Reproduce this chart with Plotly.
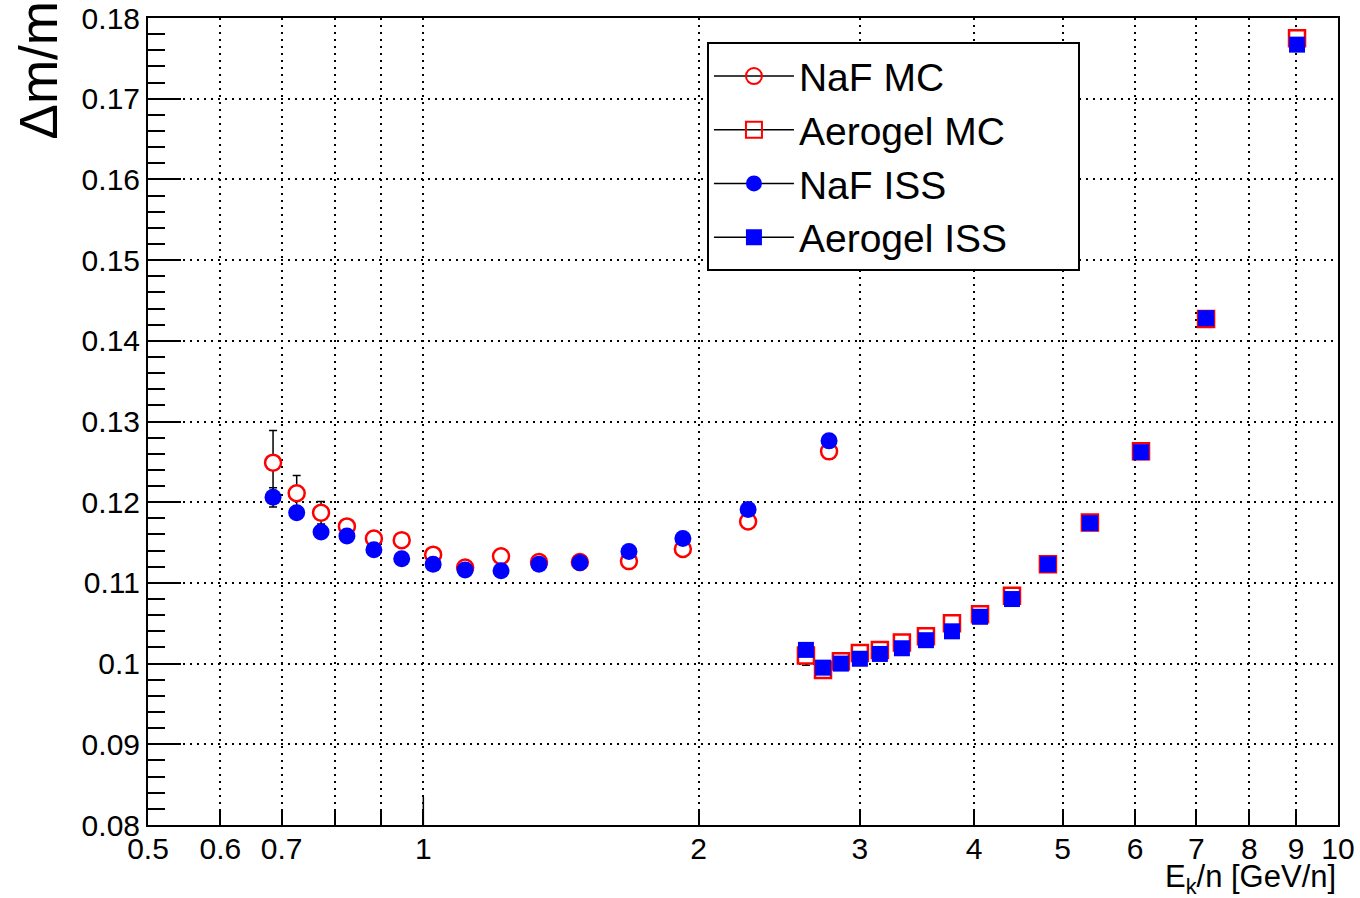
import plotly.graph_objects as go

# ---------------- data ----------------
naf_ek = [0.685, 0.727, 0.773, 0.825, 0.883, 0.947, 1.025, 1.111, 1.216, 1.338, 1.483, 1.678, 1.922, 2.265, 2.777]
naf_mc = [0.1249, 0.1211, 0.1187, 0.1170, 0.1155, 0.1153, 0.1135, 0.1119, 0.1133, 0.1126, 0.1126, 0.1127, 0.1142, 0.1176, 0.1263]
naf_mc_err = [0.0040, 0.0022, 0.0014, None, None, None, None, None, None, None, None, None, None, None, None]
naf_iss = [0.1206, 0.1187, 0.1163, 0.1158, 0.1141, 0.1130, 0.1123, 0.1116, 0.1115, 0.1123, 0.1125, 0.1139, 0.1155, 0.1191, 0.1276]
naf_iss_err = [0.0012, None, None, None, None, None, None, None, None, None, None, None, None, None, None]

agl_ek = [2.620, 2.735, 2.861, 3.001, 3.156, 3.336, 3.544, 3.784, 4.061, 4.401, 4.818, 5.355, 6.090, 7.174, 9.02]
agl_mc = [0.1010, 0.0992, 0.1003, 0.1013, 0.1017, 0.1026, 0.1034, 0.1050, 0.1061, 0.1084, 0.1123, 0.1175, 0.1263, 0.1427, 0.1775]
agl_mc_err = [0.0012, None, None, None, None, None, None, None, None, None, None, None, None, None, None]
agl_iss = [0.1017, 0.0995, 0.1000, 0.1006, 0.1012, 0.1019, 0.1029, 0.1040, 0.1058, 0.1080, 0.1123, 0.1174, 0.1262, 0.1428, 0.1767]

x_tickvals = [0.5, 0.6, 0.7, 0.8, 0.9, 1, 2, 3, 4, 5, 6, 7, 8, 9, 10]
x_ticktext = ["0.5", "0.6", "0.7", "", "", "1", "2", "3", "4", "5", "6", "7", "8", "9", "10"]
y_tickvals = [0.08, 0.09, 0.10, 0.11, 0.12, 0.13, 0.14, 0.15, 0.16, 0.17, 0.18]
y_ticktext = ["0.08", "0.09", "0.1", "0.11", "0.12", "0.13", "0.14", "0.15", "0.16", "0.17", "0.18"]

names = ["NaF MC", "Aerogel MC", "NaF ISS", "Aerogel ISS"]

RED = "#ff0000"
BLUE = "#0000ff"
FONT = "Liberation Sans"
NB = "\u00a0" * 6

fig = go.Figure()


def add_errors(xs, ys, es):
    idx = [i for i, e in enumerate(es) if e is not None]
    fig.add_trace(go.Scatter(
        x=[xs[i] for i in idx], y=[ys[i] for i in idx], mode="markers",
        showlegend=False, hoverinfo="skip",
        marker=dict(size=1, opacity=0),
        error_y=dict(type="data", array=[es[i] for i in idx], visible=True,
                     color="black", thickness=1.5, width=4)))


# error bars first (beneath markers)
add_errors(naf_ek, naf_mc, naf_mc_err)
add_errors(agl_ek, agl_mc, agl_mc_err)
add_errors(naf_ek, naf_iss, naf_iss_err)

# data traces (MC first, ISS on top)
fig.add_trace(go.Scatter(x=naf_ek, y=naf_mc, mode="markers", showlegend=False,
                         marker=dict(symbol="circle", size=16, color="white", line=dict(width=2.5, color=RED))))
fig.add_trace(go.Scatter(x=agl_ek, y=agl_mc, mode="markers", showlegend=False,
                         marker=dict(symbol="square", size=16, color="white", line=dict(width=2.5, color=RED))))
fig.add_trace(go.Scatter(x=naf_ek, y=naf_iss, mode="markers", showlegend=False,
                         marker=dict(symbol="circle", size=17, color=BLUE)))
fig.add_trace(go.Scatter(x=agl_ek, y=agl_iss, mode="markers", showlegend=False,
                         marker=dict(symbol="square", size=16, color=BLUE)))

# legend-only traces (line + marker like ROOT "lep")
leg_markers = [
    dict(symbol="circle-open", size=16, color=RED, line=dict(width=2, color=RED)),
    dict(symbol="square-open", size=16, color=RED, line=dict(width=2, color=RED)),
    dict(symbol="circle", size=16, color=BLUE),
    dict(symbol="square", size=16, color=BLUE),
]
for nm, mk in zip(names, leg_markers):
    fig.add_trace(go.Scatter(x=[None], y=[None], mode="lines+markers", name=nm + NB,
                             line=dict(color="black", width=1.5), marker=mk))

# longer decade tick at x=1
fig.add_trace(go.Scatter(x=[1, 1], y=[0.08, 0.0835], mode="lines", showlegend=False,
                         line=dict(color="black", width=1.5), hoverinfo="skip"))

fig.update_layout(
    width=1360, height=898,
    margin=dict(l=148, r=22, t=18, b=73, autoexpand=False),
    paper_bgcolor="white", plot_bgcolor="white",
    font=dict(family=FONT, color="black"),
    legend=dict(x=0.4697, y=0.97, xanchor="left", yanchor="top",
                bgcolor="white", bordercolor="black", borderwidth=2,
                font=dict(size=39, family=FONT, color="black"),
                itemwidth=80, tracegroupgap=0),
    xaxis=dict(type="log", range=[-0.30103, 1.0],
               tickmode="array", tickvals=x_tickvals, ticktext=x_ticktext,
               ticks="inside", ticklen=16, tickwidth=1.5, tickcolor="black",
               ticklabelstandoff=-4,
               showline=True, linecolor="black", linewidth=2, mirror=True,
               showgrid=True, gridcolor="black", gridwidth=1.5, griddash="2px,5px",
               tickfont=dict(size=30, family=FONT, color="black"),
               zeroline=False),
    yaxis=dict(range=[0.08, 0.18],
               tickmode="array", tickvals=y_tickvals, ticktext=y_ticktext,
               ticks="inside", ticklen=33, tickwidth=1.5, tickcolor="black",
               minor=dict(dtick=0.002, tick0=0.08, ticks="inside", ticklen=17,
                          tickwidth=1.5, tickcolor="black", showgrid=False),
               showline=True, linecolor="black", linewidth=2, mirror=True,
               showgrid=True, gridcolor="black", gridwidth=1.5, griddash="2px,5px",
               tickfont=dict(size=30, family=FONT, color="black"),
               zeroline=False),
    annotations=[
        dict(text="\u0394m/m", xref="paper", yref="paper", x=0, y=1,
             xanchor="right", yanchor="top", xshift=-79, yshift=18,
             textangle=-90, showarrow=False,
             font=dict(size=53, family=FONT, color="black")),
        dict(text="E<sub>k</sub>/n [GeV/n]", xref="paper", yref="paper", x=1, y=0,
             xanchor="right", yanchor="top", yshift=-32, xshift=0,
             showarrow=False,
             font=dict(size=31, family=FONT, color="black")),
    ],
)

fig.write_html("out.html")
